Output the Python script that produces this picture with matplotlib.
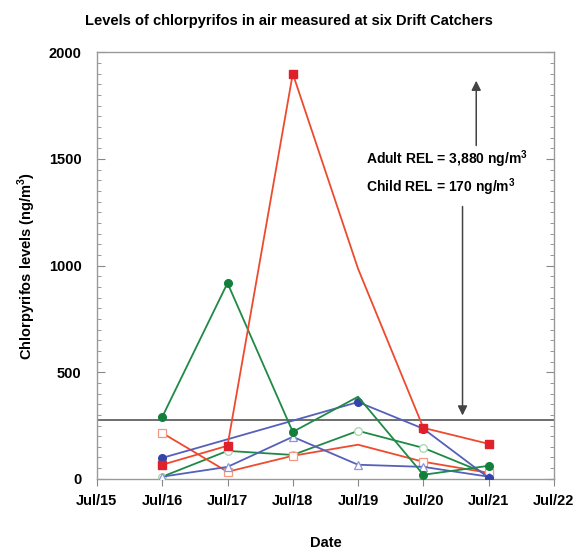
import matplotlib
matplotlib.use("Agg")
import matplotlib.pyplot as plt

plt.rcParams['font.family'] = ['Liberation Sans', 'DejaVu Sans']
plt.rcParams['mathtext.fontset'] = 'custom'
plt.rcParams['mathtext.bf'] = 'Liberation Sans:bold'
plt.rcParams['mathtext.rm'] = 'Liberation Sans:bold'

# day of July for each sample
days = [16, 17, 18, 19, 20, 21]
red_filled = [66, 155, 1900, 985, 239, 164]
red_open = [215, 33, 108, 160, 80, 28]
green_filled = [290, 918, 220, 385, 19, 61]
green_open = [10, 131, 112, 225, 145, 20]
blue_filled_days = [16, 19, 20, 21]
blue_filled = [98, 360, 235, 5]
blue_tri = [10, 56, 197, 66, 56, 10]

xtick_days = [15, 16, 17, 18, 19, 20, 21, 22]
xtick_labels = ['Jul/15', 'Jul/16', 'Jul/17', 'Jul/18', 'Jul/19', 'Jul/20', 'Jul/21', 'Jul/22']
ref_level = 276

RED = '#ee4a2e'
RED_M = '#e0202a'
GREEN = '#1f8a45'
GREEN_M = '#12803c'
BLUE = '#5560bb'
BLUE_M = '#3344aa'

fig = plt.figure(figsize=(5.77, 5.51), dpi=100)
ax = fig.add_axes([0.168, 0.131, 0.792, 0.774])

skip19 = [0, 1, 2, 4, 5]
ax.plot(days, green_open, '-o', color=GREEN, lw=1.3, ms=5.5, mfc='white', mec='#a8d4ae', mew=0.9, zorder=3)
ax.plot(days, red_open, '-s', color=RED, lw=1.3, ms=5.5, mfc='white', mec='#f39a80', mew=0.9,
        markevery=skip19, zorder=3)
ax.plot(days, blue_tri, '-^', color=BLUE, lw=1.3, ms=6, mfc='white', mec='#8c95d8', mew=0.9, zorder=3)
ax.plot(blue_filled_days, blue_filled, '-o', color=BLUE, lw=1.3, ms=5.5, mfc=BLUE_M, mec=BLUE_M, zorder=4)
ax.plot(days, green_filled, '-o', color=GREEN, lw=1.3, ms=5.5, mfc=GREEN_M, mec=GREEN_M,
        markevery=skip19, zorder=4)
ax.plot(days, red_filled, '-s', color=RED, lw=1.3, ms=5.5, mfc=RED_M, mec=RED_M,
        markevery=skip19, zorder=5)

ax.axhline(ref_level, color='#555555', lw=1.2, zorder=2)

# REL annotation with arrows
ax.annotate('', xy=(20.81, 1880), xytext=(20.81, 1550),
            arrowprops=dict(arrowstyle='-|>', color='#444444', lw=1.1, mutation_scale=14))
ax.annotate('', xy=(20.6, ref_level + 8), xytext=(20.6, 1290),
            arrowprops=dict(arrowstyle='-|>', color='#444444', lw=1.1, mutation_scale=14))
ax.text(19.12, 1500, r'Adult REL = 3,880 ng/m$^\mathbf{3}$', fontsize=10, fontweight='bold', va='center')
ax.text(19.12, 1368, r'Child REL = 170 ng/m$^\mathbf{3}$', fontsize=10, fontweight='bold', va='center')

ax.set_xlim(15, 22)
ax.set_ylim(0, 2000)
ax.set_xticks(xtick_days)
ax.set_xticklabels(xtick_labels, fontsize=10.5, fontweight='bold')
ax.set_yticks([0, 500, 1000, 1500, 2000])
ax.set_yticks(range(0, 2001, 50), minor=True)
for lab in ax.get_yticklabels():
    lab.set_fontsize(10.5)
    lab.set_fontweight('bold')

ax.tick_params(axis='x', which='major', direction='out', length=5, color='#888888', pad=6)
ax.tick_params(axis='y', which='major', direction='in', length=6, color='#888888', pad=11,
               right=True)
ax.tick_params(axis='y', which='minor', direction='in', length=3, color='#888888', right=True)
for sp in ax.spines.values():
    sp.set_color('#999999')
    sp.set_linewidth(1.0)

ax.set_xlabel('Date', fontsize=10.5, fontweight='bold', labelpad=20)
ax.set_ylabel(r'Chlorpyrifos levels (ng/m$^\mathbf{3}$)', fontsize=10.5, fontweight='bold', labelpad=8)
fig.suptitle('Levels of chlorpyrifos in air measured at six Drift Catchers', fontsize=10.5,
             fontweight='bold', x=0.5, y=0.975)

fig.savefig('out.png', dpi=100, facecolor='white')
